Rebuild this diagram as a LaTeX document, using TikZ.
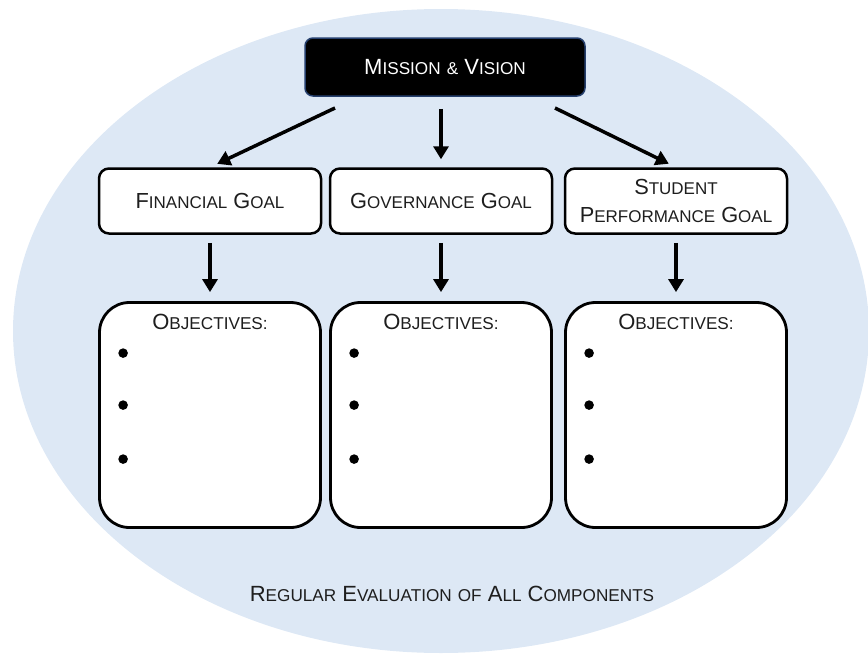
\documentclass[tikz,border=0pt]{standalone}
\usepackage{fontspec}
\setmainfont{Liberation Sans}
\usetikzlibrary{arrows.meta,calc}
\definecolor{OvalClr}{RGB}{221,232,245}
\definecolor{EdgeClr}{RGB}{38,64,110}
\definecolor{TextClr}{RGB}{30,30,30}

% fake small caps: first letter big, the rest upper case and smaller
\newcommand\capword[2]{#1\scalebox{0.78}{\MakeUppercase{#2}}}

\tikzset{
  mission/.style={fill=black,draw=EdgeClr,line width=1.5pt,rounded corners=8pt,
    minimum width=280pt,minimum height=58pt,text=white,font=\fontsize{22}{24}\selectfont},
  goal/.style={fill=white,draw=black,line width=2.5pt,rounded corners=10pt,
    minimum width=222pt,minimum height=65pt,align=center,text=TextClr,
    font=\fontsize{21.8}{28}\selectfont},
  objbox/.style={fill=white,draw=black,line width=2.8pt,rounded corners=30pt,
    minimum width=221pt,minimum height=225pt},
  flow/.style={line width=3.5pt,-{Triangle[length=13pt,width=15pt]}},
}

\begin{document}
\begin{tikzpicture}[x=1pt,y=-1pt]
\useasboundingbox (0,0) rectangle (868,656);

% background oval
\fill[OvalClr] (441,331) ellipse [x radius=428, y radius=322];

% top box
\node[mission] (mission) at (445,67) {\capword{M}{ission} \scalebox{0.78}{\&} \capword{V}{ision}};

% goals
\node[goal] (fin) at (210,201) {\capword{F}{inancial} \capword{G}{oal}};
\node[goal] (gov) at (441,201) {\capword{G}{overnance} \capword{G}{oal}};
\node[goal] (stu) at (676,201) {\capword{S}{tudent}\\\capword{P}{erformance} \capword{G}{oal}};

% objective boxes
\foreach \b/\x in {fin/210,gov/441,stu/676}
  \node[objbox,label={[below,yshift=-10pt,text=TextClr,font=\fontsize{22}{24}\selectfont]north:\capword{O}{bjectives:}}]
    (\b obj) at (\x,415) {};

\foreach \b in {fin,gov,stu}
  \foreach \dy in {52,104,158}
    \fill ($(\b obj.north west)+(25,\dy)$) circle (4.8pt);

% arrows
\coordinate (mleft) at (335,108);
\coordinate (mright) at (555,108);
\draw[flow,shorten >=8pt] (mleft) -- (fin.north);
\draw[flow,shorten <=12pt,shorten >=8pt] (mission.south -| gov.north) -- (gov.north);
\draw[flow,shorten >=8pt] (mright) -- (stu.north);

\foreach \b in {fin,gov,stu}
  \draw[flow,shorten <=8pt,shorten >=9pt] (\b.south) -- (\b obj.north);

% bottom caption
\node[text=TextClr,font=\fontsize{22}{24}\selectfont] (eval) at (452,594)
  {\capword{R}{egular} \capword{E}{valuation} \capword{}{of} \capword{A}{ll} \capword{C}{omponents}};
\end{tikzpicture}
\end{document}
